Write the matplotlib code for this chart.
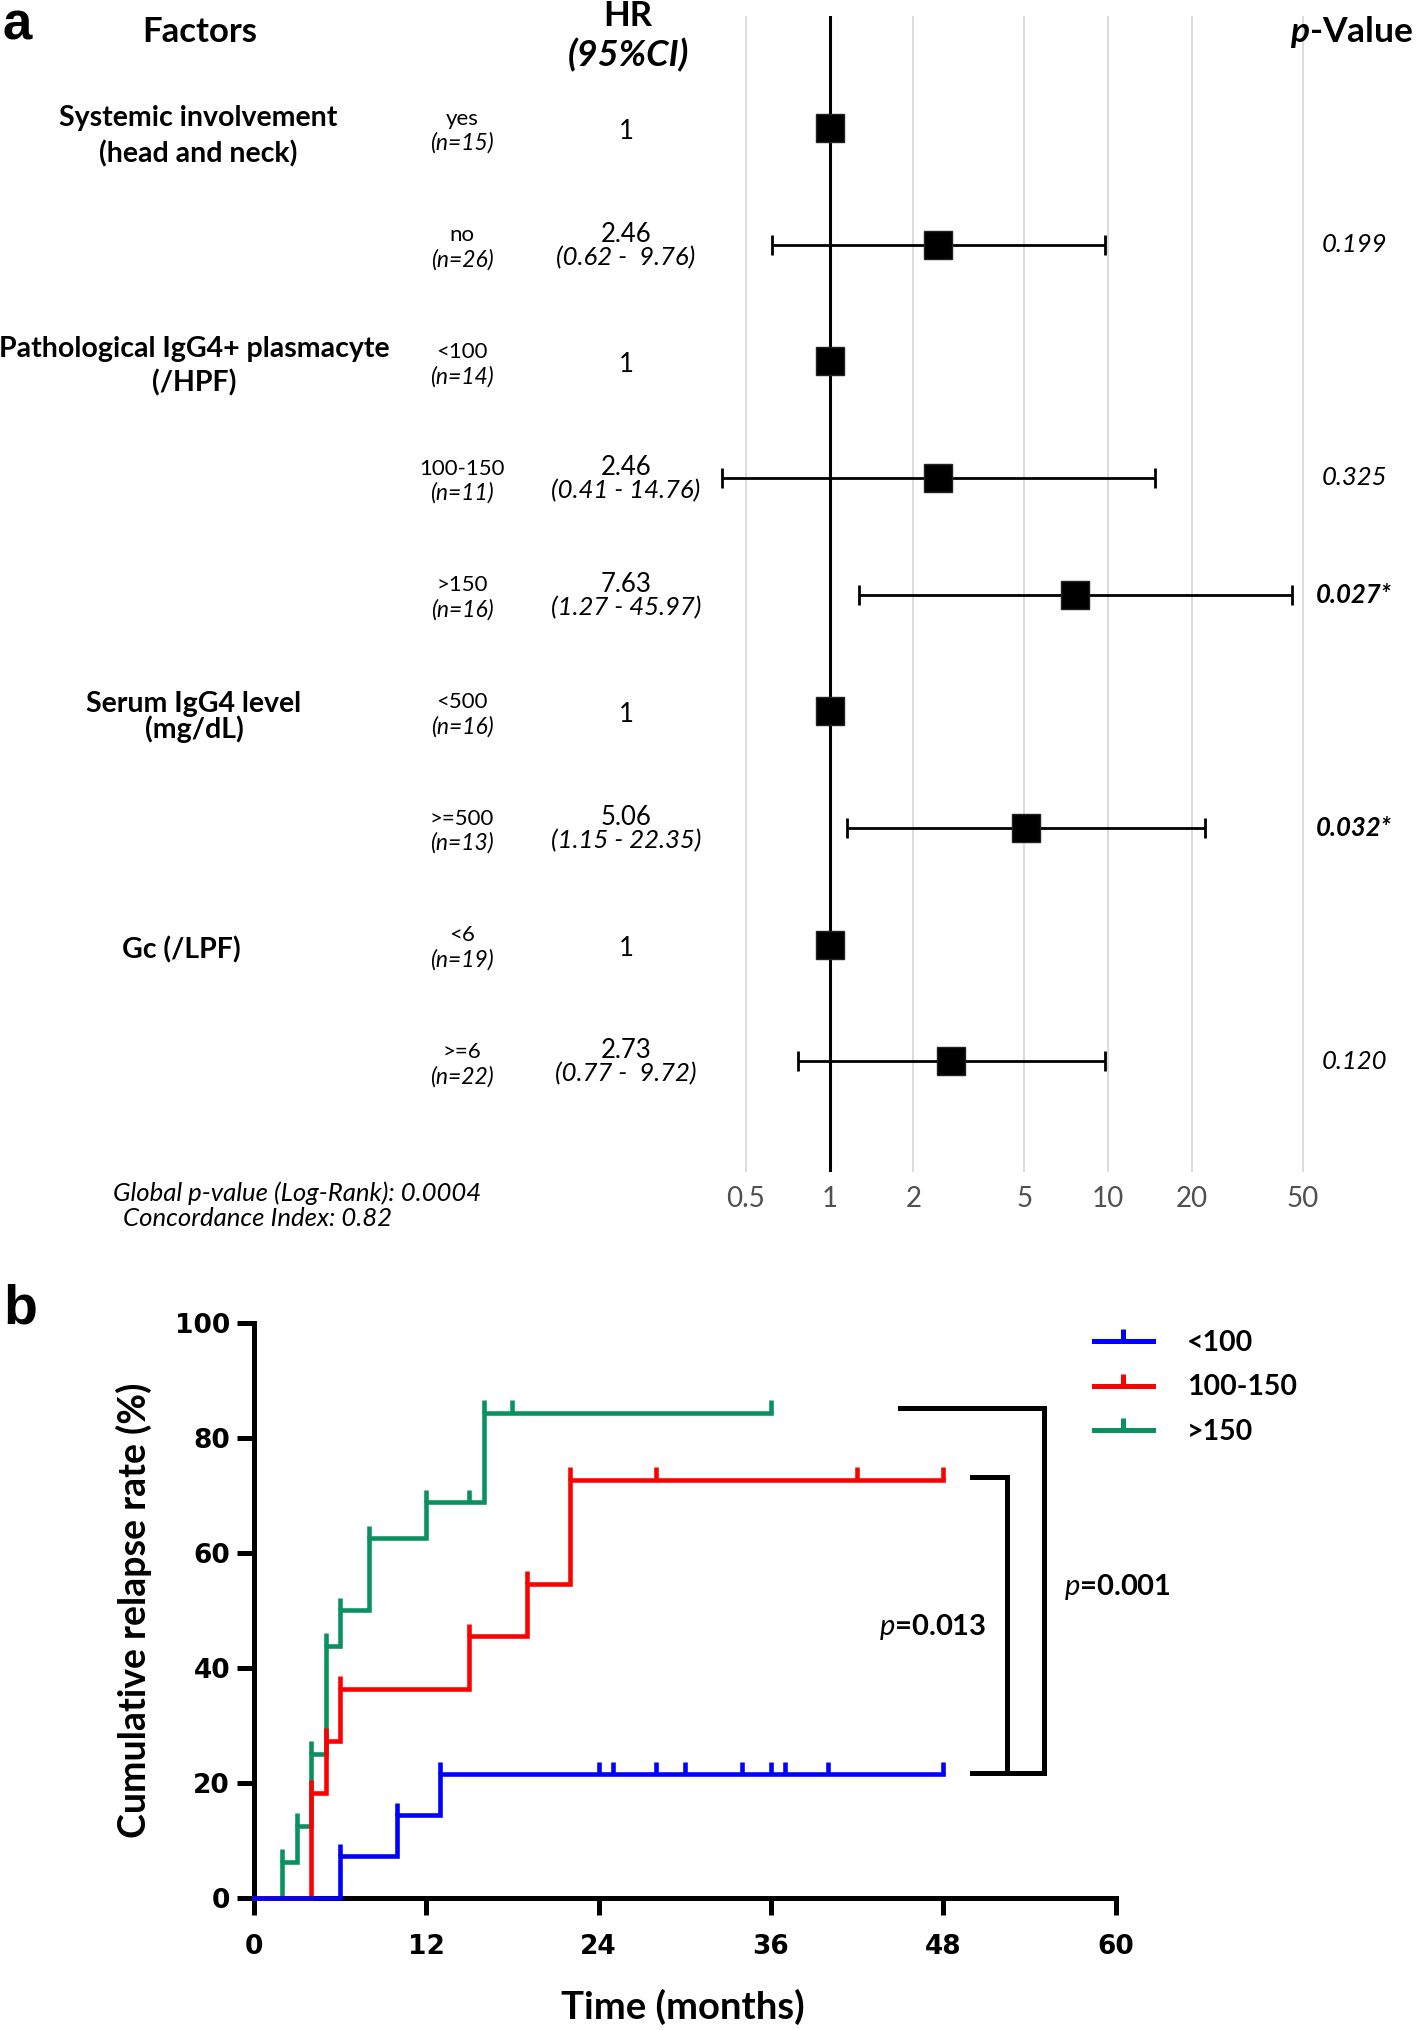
import matplotlib
matplotlib.use('Agg')
import matplotlib.pyplot as plt
from matplotlib.path import Path
from matplotlib.lines import Line2D
from matplotlib import transforms
import numpy as np

plt.rcParams['font.family'] = ['Lato', 'DejaVu Sans']
plt.rcParams['mathtext.fontset'] = 'custom'
plt.rcParams['mathtext.rm'] = 'Lato'
plt.rcParams['mathtext.it'] = 'Lato:italic'
plt.rcParams['mathtext.bf'] = 'Lato:bold'
plt.rcParams['mathtext.bfit'] = 'Lato:italic:bold'

# ---------------- data: forest plot (panel a) ----------------
factor_labels = ["Systemic involvement\n(head and neck)",
                 "Pathological IgG4+ plasmacyte\n(/HPF)",
                 "Serum IgG4 level\n(mg/dL)",
                 "Gc (/LPF)"]
factor_rows = [0, 2, 5, 7]
subgroups = ["yes", "no", "<100", "100-150", ">150", "<500", ">=500", "<6", ">=6"]
group_n = [15, 26, 14, 11, 16, 16, 13, 19, 22]
hr = [1, 2.46, 1, 2.46, 7.63, 1, 5.06, 1, 2.73]
ci_low = [None, 0.62, None, 0.41, 1.27, None, 1.15, None, 0.77]
ci_high = [None, 9.76, None, 14.76, 45.97, None, 22.35, None, 9.72]
p_values = ["", "0.199", "", "0.325", "0.027*", "", "0.032*", "", "0.120"]
p_significant = [False, False, False, False, True, False, True, False, False]
hr_ticks = [0.5, 1, 2, 5, 10, 20, 50]
global_p = "0.0004"
concordance = "0.82"

# ---------------- data: cumulative relapse (panel b) ----------------
km_labels = ["<100", "100-150", ">150"]
km_colors = ["#0000FF", "#FF0000", "#0A9160"]
blue_t = [0, 6, 10, 13, 48]
blue_y = [0, 7.14, 14.29, 21.43, 21.43]
blue_censor = [24, 25, 28, 30, 34, 36, 37, 40, 48]
red_t = [0, 4, 5, 6, 15, 19, 22, 48]
red_y = [0, 18.18, 27.27, 36.36, 45.45, 54.55, 72.73, 72.73]
red_censor = [28, 42, 48]
green_t = [0, 2, 3, 4, 5, 6, 8, 12, 16, 36]
green_y = [0, 6.25, 12.5, 25.0, 43.75, 50.0, 62.5, 68.75, 84.38, 84.38]
green_censor = [15, 18, 36]
km_xticks = [0, 12, 24, 36, 48, 60]
km_yticks = [0, 20, 40, 60, 80, 100]
p_outer = "0.001"
p_inner = "0.013"

W, H, DPI = 1416, 2030, 100
fig = plt.figure(figsize=(W / DPI, H / DPI), dpi=DPI)
fig.patch.set_facecolor('white')


def fx(px):
    return px / W


def fy(py):
    return 1 - py / H


# ================= panel a =================
axl, axr, axt, axb = 702.7, 1343.3, 16, 1172
ax = fig.add_axes([fx(axl), fy(axb), fx(axr - axl), (axb - axt) / H])
ax.set_xscale('log')
ax.set_xlim(0.35, 70)
ax.set_ylim(8.95, -0.96)
for s in ax.spines.values():
    s.set_visible(False)
ax.set_xticks(hr_ticks)
ax.set_xticklabels([f"{t:g}" for t in hr_ticks])
ax.xaxis.set_minor_locator(matplotlib.ticker.NullLocator())
ax.tick_params(axis='x', length=0, labelsize=20, labelcolor='#505050', pad=10)
ax.set_yticks([])
for t in hr_ticks:
    if t != 1:
        ax.axvline(t, color='#d9d9d9', lw=1.3, zorder=0)
ax.axvline(1, color='black', lw=2.2, zorder=1)

rows = np.arange(len(hr))
for i in rows:
    if ci_low[i] is not None:
        ax.errorbar(hr[i], i, xerr=[[hr[i] - ci_low[i]], [ci_high[i] - hr[i]]],
                    fmt='none', ecolor='black', elinewidth=2.0, capsize=7, capthick=2.0, zorder=2)
ax.plot(hr, rows, 's', color='black', markersize=19.5, markeredgecolor='#222222', zorder=3, linestyle='none')

trans = transforms.blended_transform_factory(fig.transFigure, ax.transData)

# headers
fig.text(fx(200), fy(32), "Factors", ha='center', va='center', fontsize=25, fontweight='bold')
fig.text(fx(628), fy(16), "HR", ha='center', va='center', fontsize=25, fontweight='bold')
fig.text(fx(628), fy(55), "(95%CI)", ha='center', va='center', fontsize=26, fontweight='bold', fontstyle='italic')
fig.text(fx(1413), fy(32), r"$\mathbfit{p}$-Value", ha='right', va='center', fontsize=25.5, fontweight='bold')

factor_x = [198, 194, 194, 181]
factor_ls = [1.45, 1.32, 0.92, 1.2]
factor_dy = [0.07, 0.04, 0.05, 0.05]
for lab, r, x, ls, dy in zip(factor_labels, factor_rows, factor_x, factor_ls, factor_dy):
    ax.text(fx(x), r + dy, lab, transform=trans, ha='center', va='center',
            fontsize=20.5, fontweight='bold', linespacing=ls, multialignment='center')

for i in rows:
    ax.text(fx(462), i - 0.08, subgroups[i], transform=trans, ha='center', va='center', fontsize=16)
    ax.text(fx(462), i + 0.13, f"(n={group_n[i]})", transform=trans, ha='center', va='center',
            fontsize=16.5, fontstyle='italic')
    if ci_low[i] is None:
        ax.text(fx(626), i + 0.03, f"{hr[i]:g}", transform=trans, ha='center', va='center', fontsize=18.5)
    else:
        ax.text(fx(626), i - 0.09, f"{hr[i]:.2f}", transform=trans, ha='center', va='center', fontsize=18.5)
        ax.text(fx(626), i + 0.11, f"({ci_low[i]:.2f} - {ci_high[i]:5.2f})", transform=trans,
                ha='center', va='center', fontsize=18.5, fontstyle='italic')
    if p_values[i]:
        ax.text(fx(1354), i, p_values[i], transform=trans, ha='center', va='center', fontsize=18.5,
                fontstyle='italic', fontweight='bold' if p_significant[i] else 'normal')

fig.text(fx(113), fy(1193), f"Global p-value (Log-Rank): {global_p}", ha='left', va='center',
         fontsize=18.5, fontstyle='italic')
fig.text(fx(123), fy(1219), f"Concordance Index: {concordance}", ha='left', va='center',
         fontsize=18.5, fontstyle='italic')

fig.text(fx(3), fy(40), "a", ha='left', va='baseline', fontsize=38, fontweight='bold',
         family=['Liberation Sans', 'DejaVu Sans'])

# ================= panel b =================
bl, br, bt, bb = 253.7, 1115.7, 1322.8, 1897.5
ax2 = fig.add_axes([fx(bl), fy(bb), fx(br - bl), (bb - bt) / H])
ax2.set_xlim(0, 60)
ax2.set_ylim(0, 100)
for s in ['top', 'right']:
    ax2.spines[s].set_visible(False)
for s in ['left', 'bottom']:
    ax2.spines[s].set_linewidth(3.6)
ax2.set_xticks(km_xticks)
ax2.set_yticks(km_yticks)
ax2.tick_params(direction='out', length=12, width=3.6)
ax2.tick_params(axis='y', pad=5)
ax2.tick_params(axis='x', pad=14)
for lab in ax2.get_xticklabels() + ax2.get_yticklabels():
    lab.set_fontfamily('DejaVu Sans')
    lab.set_fontweight('bold')
    lab.set_fontsize(19)

series = [(blue_t, blue_y, blue_censor), (red_t, red_y, red_censor), (green_t, green_y, green_censor)]
zorders = [6, 5, 4]
tick_len = 2.2
for (t, y, cens), c, z in zip(series, km_colors, zorders):
    t = np.asarray(t, float)
    y = np.asarray(y, float)
    ax2.plot(t, y, drawstyle='steps-post', color=c, lw=3.3, zorder=z, clip_on=False,
             solid_joinstyle='miter')
    marks = np.concatenate([t[1:-1], np.asarray(cens, float)])
    idx = np.searchsorted(t, marks, side='right') - 1
    lev = y[np.clip(idx, 0, len(y) - 1)]
    ax2.vlines(marks, lev, lev + tick_len, colors=c, lw=3.3, zorder=z, clip_on=False)

# significance brackets
blue_end, red_end, green_end = blue_y[-1], red_y[-1], green_y[-1]
ax2.plot([45, 55, 55, 50], [green_end + 0.8, green_end + 0.8, blue_end + 0.2, blue_end + 0.2],
         color='black', lw=3.6, solid_joinstyle='miter', clip_on=False, zorder=3)
ax2.plot([50, 52.4, 52.4], [red_end + 0.5, red_end + 0.5, blue_end + 0.2],
         color='black', lw=3.6, solid_joinstyle='miter', clip_on=False, zorder=3)
ax2.text(47.3, 47, r"$\mathit{p}$=" + p_inner, ha='center', va='center', fontsize=21, fontweight='bold')
ax2.text(60.1, 54, r"$\mathit{p}$=" + p_outer, ha='center', va='center', fontsize=21, fontweight='bold',
         clip_on=False)

ax2.set_xlabel("Time (months)", fontsize=27.5, fontweight='bold')
ax2.set_ylabel("Cumulative relapse rate (%)", fontsize=27, fontweight='bold')
ax2.xaxis.set_label_coords(0.498, -0.158)
ax2.yaxis.set_label_coords(-0.118, 0.5)

tick_marker = Path([(0, 0), (0, 1)], [Path.MOVETO, Path.LINETO])
handles = [Line2D([0], [0], color=c, lw=3.6, marker=tick_marker, markersize=17,
                  markeredgewidth=3.6, markeredgecolor=c) for c in km_colors]
ax2.legend(handles, km_labels, loc='upper left', bbox_to_anchor=(0.975, 0.987), frameon=False,
           prop={'family': 'Lato', 'weight': 'bold', 'size': 20.5}, handlelength=2.05,
           handletextpad=1.2, labelspacing=0.64, borderaxespad=0, borderpad=0, numpoints=1)

fig.text(fx(3), fy(1323), "b", ha='left', va='baseline', fontsize=40, fontweight='bold',
         family=['Liberation Sans', 'DejaVu Sans'])

fig.savefig('out.png', dpi=DPI, facecolor='white')
